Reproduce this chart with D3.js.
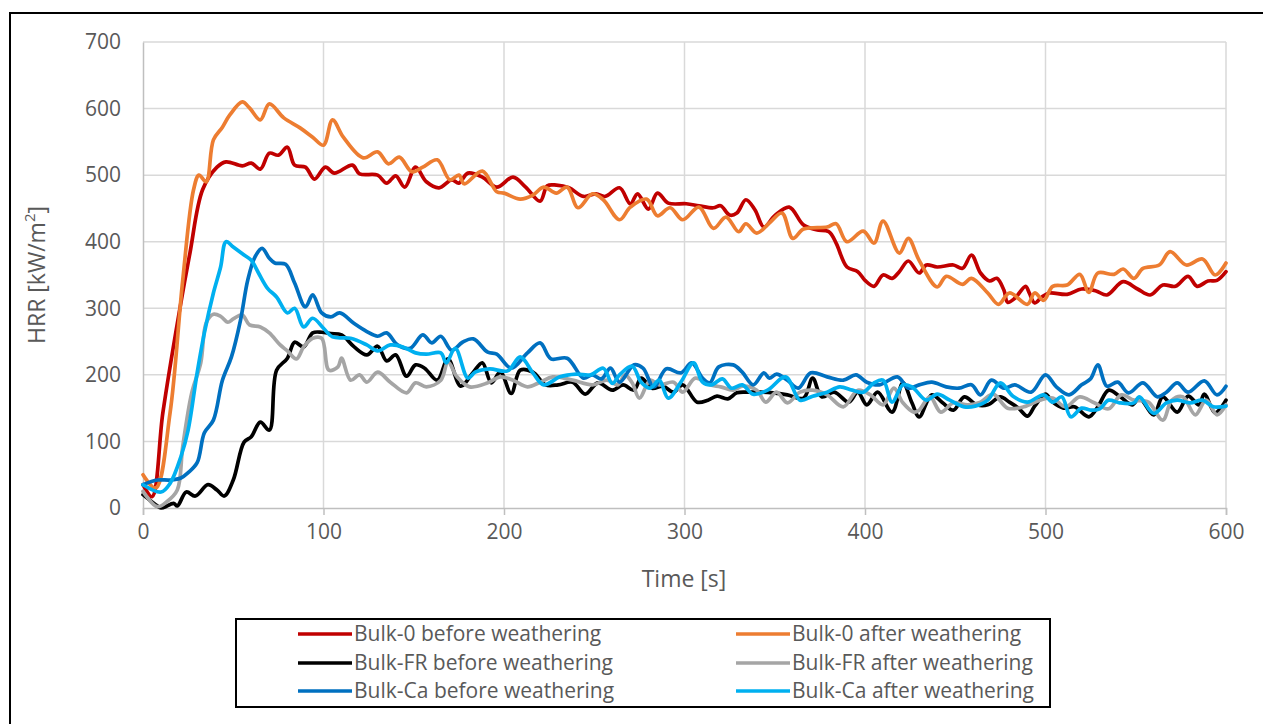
<!DOCTYPE html>
<html><head><meta charset="utf-8">
<script src="https://cdn.jsdelivr.net/npm/d3@7"></script>
<style>
html,body{margin:0;padding:0;background:#fff;}
svg{display:block;font-family:"Open Sans","Noto Sans",sans-serif;}
</style></head>
<body>
<svg id="chart" width="1263" height="724"></svg>
<script>
// ---- data (time [s], HRR [kW/m2]) ----
const bulk0Before = [[0,35],[5,17],[11,143],[20,293],[26,383],[33,478],[41,512],[46,520],[55,514],[60,518],[65,509],[70,533],[75,530],[80,542],[84,515],[90,512],[95,494],[101,512],[106,503],[116,515],[120,502],[130,500],[135,488],[140,499],[145,482],[151,512],[157,490],[164,481],[171,493],[175,488],[180,503],[188,497],[196,482],[205,497],[212,482],[220,461],[224,484],[229,485],[236,481],[244,468],[251,472],[256,468],[264,481],[270,457],[274,472],[280,449],[285,473],[291,458],[301,457],[308,454],[316,451],[320,454],[325,440],[329,443],[334,463],[339,448],[344,422],[350,439],[358,452],[366,425],[373,418],[380,415],[384,398],[390,362],[396,355],[400,342],[405,333],[410,350],[415,345],[419,355],[424,371],[430,353],[434,365],[440,362],[449,365],[454,360],[459,380],[464,353],[469,341],[473,345],[477,327],[479,309],[483,315],[489,333],[491,323],[494,308],[498,317],[502,323],[512,321],[520,329],[528,326],[534,320],[543,340],[551,329],[558,320],[565,335],[572,333],[579,348],[584,333],[590,341],[595,342],[600,355]];
const bulk0After = [[0,50],[7,30],[15,143],[22,342],[28,478],[31,500],[35,490],[39,553],[44,572],[48,590],[55,610],[59,601],[65,583],[70,607],[78,586],[87,571],[94,557],[100,545],[105,583],[111,557],[122,526],[130,535],[136,517],[142,527],[149,505],[155,512],[163,523],[170,493],[175,500],[178,487],[188,506],[196,475],[200,473],[209,464],[216,470],[222,482],[229,473],[235,482],[241,451],[249,472],[255,463],[264,433],[270,452],[279,464],[285,439],[292,451],[299,433],[308,452],[316,420],[323,437],[330,415],[334,427],[340,413],[347,428],[354,443],[360,405],[366,419],[379,422],[384,427],[390,400],[399,416],[405,398],[410,431],[419,383],[424,405],[430,372],[440,332],[445,348],[454,336],[459,345],[468,323],[474,306],[480,323],[490,306],[494,323],[499,312],[504,333],[512,335],[519,351],[524,324],[529,353],[538,351],[543,359],[549,345],[554,360],[563,365],[569,385],[578,365],[587,374],[594,350],[600,368]];
const bulkFRBefore = [[0,20],[7,5],[10,0],[17,7],[19,3],[24,24],[29,18],[36,35],[41,27],[45,18],[50,42],[56,99],[60,107],[65,129],[70,117],[74,207],[80,225],[84,249],[89,242],[94,263],[99,264],[104,262],[110,260],[117,242],[124,230],[130,243],[135,221],[140,230],[146,198],[151,215],[156,210],[163,192],[169,224],[176,183],[183,204],[188,218],[193,188],[198,204],[204,172],[209,207],[216,204],[223,185],[230,185],[238,189],[245,171],[252,188],[260,177],[266,185],[272,177],[276,195],[282,180],[288,183],[294,174],[299,185],[307,159],[313,162],[318,168],[324,164],[329,173],[335,174],[342,174],[349,173],[357,170],[366,165],[371,195],[376,167],[383,174],[391,159],[396,174],[401,155],[407,174],[415,144],[421,188],[426,158],[430,137],[437,170],[443,158],[449,147],[455,167],[462,155],[468,155],[475,167],[480,159],[485,150],[490,138],[494,153],[500,171],[504,159],[510,150],[516,152],[524,137],[529,152],[535,177],[541,168],[548,155],[552,165],[560,140],[565,167],[573,144],[579,168],[585,155],[588,171],[594,143],[600,162]];
const bulkFRAfter = [[0,25],[8,2],[13,9],[19,27],[22,92],[27,173],[32,218],[35,278],[39,291],[43,288],[47,279],[50,284],[55,290],[59,275],[65,272],[70,263],[76,245],[80,236],[85,224],[89,242],[94,255],[99,255],[103,207],[108,212],[110,225],[115,192],[120,200],[124,189],[130,204],[137,189],[146,173],[151,188],[157,182],[165,192],[169,219],[174,197],[181,182],[191,188],[198,197],[205,192],[213,182],[220,189],[227,197],[238,192],[249,185],[257,192],[263,185],[267,200],[271,188],[275,165],[281,192],[286,185],[294,189],[299,174],[306,195],[314,185],[320,182],[327,177],[332,183],[340,177],[345,159],[351,174],[357,158],[364,174],[371,177],[379,170],[388,152],[396,177],[403,170],[410,155],[416,180],[421,158],[427,144],[430,147],[436,167],[442,144],[449,158],[457,155],[464,159],[471,171],[479,150],[488,152],[497,162],[504,165],[511,152],[519,167],[527,158],[535,149],[542,170],[549,162],[557,159],[565,132],[570,162],[576,167],[583,140],[589,162],[595,140],[600,155]];
const bulkCaBefore = [[0,35],[8,42],[15,42],[21,45],[25,53],[30,68],[34,113],[39,132],[44,192],[49,227],[54,282],[58,342],[62,377],[66,390],[70,375],[73,368],[79,366],[84,338],[90,302],[94,320],[99,293],[104,287],[109,293],[117,277],[124,265],[130,258],[135,263],[141,245],[148,240],[155,260],[160,248],[165,258],[171,237],[177,249],[183,254],[191,234],[196,231],[204,210],[213,233],[220,248],[226,224],[235,225],[244,195],[249,200],[254,194],[259,210],[264,189],[272,215],[277,210],[283,182],[290,209],[298,203],[304,218],[310,195],[314,188],[319,212],[327,215],[332,204],[338,185],[344,203],[347,195],[351,201],[357,192],[363,180],[370,203],[379,197],[388,192],[395,200],[401,189],[408,185],[418,197],[424,180],[430,185],[437,189],[445,182],[452,180],[459,185],[464,170],[470,192],[477,180],[483,185],[492,174],[500,200],[506,182],[513,170],[520,185],[525,194],[529,215],[534,183],[540,189],[546,173],[554,188],[562,167],[567,174],[573,188],[579,174],[588,191],[595,170],[600,183]];
const bulkCaAfter = [[0,35],[10,24],[15,37],[21,77],[25,117],[30,203],[34,263],[39,323],[43,362],[46,400],[50,392],[56,380],[60,372],[64,353],[69,330],[74,317],[80,293],[84,300],[89,272],[94,285],[100,270],[105,257],[115,255],[124,245],[130,236],[137,245],[144,242],[151,233],[157,231],[165,233],[168,218],[173,240],[180,195],[184,204],[192,209],[202,206],[209,227],[216,203],[222,185],[231,197],[240,201],[248,200],[255,210],[260,187],[264,200],[271,213],[276,189],[281,180],[286,192],[291,165],[298,189],[305,218],[310,189],[315,185],[321,194],[326,180],[332,185],[338,171],[346,177],[356,197],[364,162],[371,168],[379,174],[386,182],[393,177],[399,174],[405,188],[410,192],[415,159],[421,185],[426,182],[434,162],[440,171],[447,162],[455,152],[461,153],[468,162],[475,188],[482,168],[490,159],[499,170],[504,159],[509,167],[514,137],[520,150],[525,147],[530,149],[535,162],[541,158],[549,158],[552,167],[560,142],[567,158],[573,162],[580,158],[587,162],[593,152],[600,153]];

const seriesNames = ["Bulk-0 before weathering","Bulk-0 after weathering","Bulk-FR before weathering","Bulk-FR after weathering","Bulk-Ca before weathering","Bulk-Ca after weathering"];
const seriesColors = ["#C00000","#ED7D31","#000000","#A5A5A5","#0070C0","#00B0F0"];
const seriesData = [bulk0Before,bulk0After,bulkFRBefore,bulkFRAfter,bulkCaBefore,bulkCaAfter];
const xTicks = [0,100,200,300,400,500,600];
const yTicks = [0,100,200,300,400,500,600,700];

// ---- layout ----
const svg = d3.select("#chart");
const L = 143, R = 1226, T = 42, B = 508;
const x = d3.scaleLinear().domain([0,600]).range([L,R]);
const y = d3.scaleLinear().domain([0,700]).range([B,T]);
const textCol = "#595959";

// outer frame
svg.append("rect").attr("x",10).attr("y",13).attr("width",1270).attr("height",730)
  .attr("fill","none").attr("stroke","#000").attr("stroke-width",2);

// gridlines
const g = svg.append("g");
g.selectAll("line.hg").data(yTicks.filter(d=>d>0)).join("line")
  .attr("x1",L).attr("x2",R).attr("y1",d=>y(d)).attr("y2",d=>y(d))
  .attr("stroke","#d9d9d9").attr("stroke-width",1.5);
g.selectAll("line.vg").data(xTicks.filter(d=>d>0)).join("line")
  .attr("y1",T).attr("y2",B).attr("x1",d=>x(d)).attr("x2",d=>x(d))
  .attr("stroke","#d9d9d9").attr("stroke-width",1.5);

// axes
const xAxis = d3.axisBottom(x).tickValues(xTicks).tickSize(7).tickPadding(9);
const xa = svg.append("g").attr("transform",`translate(0,${B})`).call(xAxis);
xa.select(".domain").attr("stroke","#bfbfbf").attr("stroke-width",1.5);
xa.selectAll(".tick line").attr("stroke","#bfbfbf").attr("stroke-width",1.5);
xa.selectAll("text").attr("fill",textCol).attr("font-size",21).attr("font-family","Open Sans");

const yAxis = d3.axisLeft(y).tickValues(yTicks).tickSize(0).tickPadding(22);
const ya = svg.append("g").attr("transform",`translate(${L},0)`).call(yAxis);
ya.select(".domain").attr("stroke","#bfbfbf").attr("stroke-width",1.5);
ya.selectAll("text").attr("fill",textCol).attr("font-size",21).attr("font-family","Open Sans");

// axis titles
svg.append("text").attr("x",684).attr("y",587).attr("text-anchor","middle")
  .attr("fill",textCol).attr("font-size",23).text("Time [s]");
const yt = svg.append("text").attr("transform","translate(45,275) rotate(-90)")
  .attr("text-anchor","middle").attr("fill",textCol).attr("font-size",23);
yt.append("tspan").text("HRR [kW/m");
yt.append("tspan").attr("baseline-shift","super").attr("font-size",15).text("2");
yt.append("tspan").text("]");

// lines
const line = d3.line().x(d=>x(d[0])).y(d=>y(d[1])).curve(d3.curveCatmullRom.alpha(0.5));
svg.append("g").selectAll("path").data(seriesData).join("path")
  .attr("d",line).attr("fill","none")
  .attr("stroke",(d,i)=>seriesColors[i]).attr("stroke-width",3.7)
  .attr("stroke-linejoin","round").attr("stroke-linecap","round");

// legend
svg.append("rect").attr("x",236).attr("y",619).attr("width",814).attr("height",88)
  .attr("fill","#fff").attr("stroke","#000").attr("stroke-width",2);
const colX = [298,736], rowY = [634,663,691];
const lg = svg.append("g").selectAll("g").data(seriesNames).join("g")
  .attr("transform",(d,i)=>`translate(${colX[i%2]},${rowY[Math.floor(i/2)]})`);
lg.append("line").attr("x1",0).attr("x2",54).attr("y1",0).attr("y2",0)
  .attr("stroke",(d,i)=>seriesColors[i]).attr("stroke-width",3.7);
lg.append("text").attr("x",56).attr("y",0).attr("dy","0.35em")
  .attr("fill",textCol).attr("font-size",21).text(d=>d);
</script>
</body></html>
